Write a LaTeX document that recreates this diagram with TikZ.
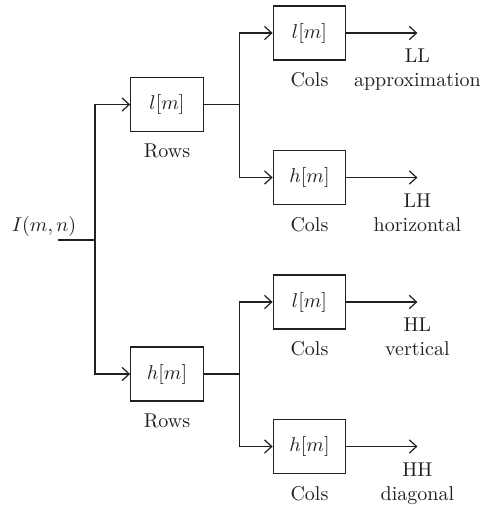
\documentclass[tikz,border=0pt]{standalone}
\usetikzlibrary{arrows.meta,positioning}
\definecolor{ink}{RGB}{35,31,32}
\begin{document}
\begin{tikzpicture}[x=0.5pt,y=-0.5pt,
  wire/.style={draw=ink,line width=0.6pt},
  filt/.style={draw=ink,line width=0.6pt,minimum width=36.3pt,minimum height=27pt,inner sep=0pt,text=ink},
  lbl/.style={text=ink,inner sep=3.33pt},
  outlbl/.style={text=ink,align=center,anchor=north,yshift=-4.5pt},
  arr/.style={wire,-{Straight Barb[length=3.6pt,width=6.6pt]}}]
\path[use as bounding box] (0,0) rectangle (485,505);

% first stage: filtering along rows
\node[filt] (rA) at (167,104.5) {$l[m]$};
\node[filt] (rB) at (167,374) {$h[m]$};
\node[lbl,below=2.5pt of rA] (rAl) {Rows};
\node[lbl,below=2.5pt of rB] (rBl) {Rows};

% second stage: filtering along columns
\node[filt] (cA) at (309.5,33) {$l[m]$};
\node[filt] (cB) at (309.5,177.5) {$h[m]$};
\node[filt] (cC) at (309.5,302) {$l[m]$};
\node[filt] (cD) at (309.5,446.5) {$h[m]$};
\foreach \b in {cA,cB,cC,cD}
  \node[lbl,below=2.5pt of \b] (\b l) {Cols};

% input signal
\coordinate (in) at (58,240);
\coordinate (split) at (95,240);
\node[lbl] (inl) at (44,226) {$I(m,n)$};
\draw[wire] (in) -- (split);
\draw[arr] (split) |- (rA.west);
\draw[arr] (split) |- (rB.west);

% branches into the column filters
\draw[wire] (rA.east) -- ++(35.7,0) coordinate (j1);
\draw[arr] (j1) |- (cA.west);
\draw[arr] (j1) |- (cB.west);
\draw[wire] (rB.east) -- ++(35.7,0) coordinate (j2);
\draw[arr] (j2) |- (cC.west);
\draw[arr] (j2) |- (cD.west);

% sub-band outputs
\draw[arr] (cA.east) -- ++(71,0) coordinate (oA);
\draw[arr] (cB.east) -- ++(71,0) coordinate (oB);
\draw[arr] (cC.east) -- ++(71,0) coordinate (oC);
\draw[arr] (cD.east) -- ++(71,0) coordinate (oD);
\node[outlbl] (oAl) at (oA) {LL\\approximation};
\node[outlbl] (oBl) at (oB) {LH\\horizontal};
\node[outlbl] (oCl) at (oC) {HL\\vertical};
\node[outlbl] (oDl) at (oD) {HH\\diagonal};
\end{tikzpicture}
\end{document}
